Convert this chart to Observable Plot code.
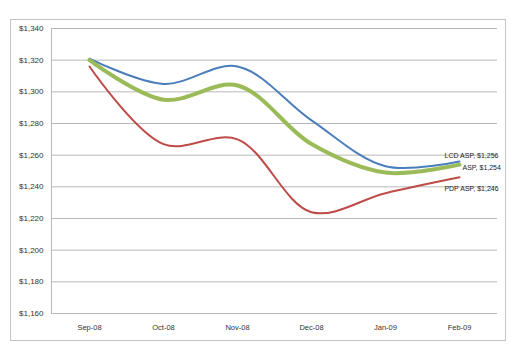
<!DOCTYPE html>
<html>
<head>
<meta charset="utf-8">
<script src="https://cdn.jsdelivr.net/npm/d3@7"></script>
<script src="https://cdn.jsdelivr.net/npm/@observablehq/plot@0.6"></script>
<style>
  html, body { margin: 0; padding: 0; background: #fff; }
  #chart { width: 520px; height: 362px; }
</style>
</head>
<body>
<div id="chart"></div>
<script>
const months = ["Sep-08", "Oct-08", "Nov-08", "Dec-08", "Jan-09", "Feb-09"];
const lcdASP = [1321, 1305, 1316, 1282, 1253, 1256];
const avgASP = [1320, 1295, 1304, 1267, 1249, 1254];
const pdpASP = [1316, 1267, 1270, 1224, 1236, 1246];
const yTicks = [1160, 1180, 1200, 1220, 1240, 1260, 1280, 1300, 1320, 1340];

const seriesDefs = [
  {name: "LCD ASP", values: lcdASP, color: "#4a7ebb", width: 2, dx: 12, dy: -6, anchor: "middle"},
  {name: "ASP", values: avgASP, color: "#9bbb59", width: 4, dx: 3, dy: 3, anchor: "start"},
  {name: "PDP ASP", values: pdpASP, color: "#be4b48", width: 2, dx: 12, dy: 11, anchor: "middle"}
];

const money = d => "$" + d3.format(",")(d);
const fontFam = "'Liberation Sans', Arial, sans-serif";

const marks = [
  Plot.gridY(yTicks, {stroke: "#b8b8b8", strokeOpacity: 1, strokeWidth: 1}),
  Plot.frame({anchor: "left", stroke: "#b8b8b8"}),
  Plot.axisY(yTicks, {tickSize: 0, tickPadding: 8, tickFormat: money, fontSize: 8, fill: "#333"}),
  Plot.axisX({tickSize: 0, tickPadding: 11, fontSize: 7.5, fill: "#333"})
];

for (const s of seriesDefs) {
  const data = months.map((m, i) => ({month: m, value: s.values[i]}));
  marks.push(Plot.line(data, {x: "month", y: "value", stroke: s.color, strokeWidth: s.width, curve: "catmull-rom"}));
  const last = data[data.length - 1];
  marks.push(Plot.text([last], {
    x: "month", y: "value",
    text: d => `${s.name}, ${money(d.value)}`,
    dx: s.dx, dy: s.dy, textAnchor: s.anchor,
    fontSize: 7, fill: "#222"
  }));
}

const chart = Plot.plot({
  width: 520,
  height: 362,
  marginLeft: 51,
  marginRight: 23,
  marginTop: 28,
  marginBottom: 49,
  style: {fontFamily: fontFam, background: "#fff", overflow: "visible"},
  x: {type: "point", domain: months, padding: 0.5, label: null},
  y: {domain: [1160, 1340], label: null},
  marks
});

// outer chart-area border (Excel style)
d3.select(chart).insert("rect", ":first-child")
  .attr("x", 10.5).attr("y", 19.5).attr("width", 495).attr("height", 321)
  .attr("fill", "none").attr("stroke", "#c4c4c4");

document.getElementById("chart").appendChild(chart);
</script>
</body>
</html>
